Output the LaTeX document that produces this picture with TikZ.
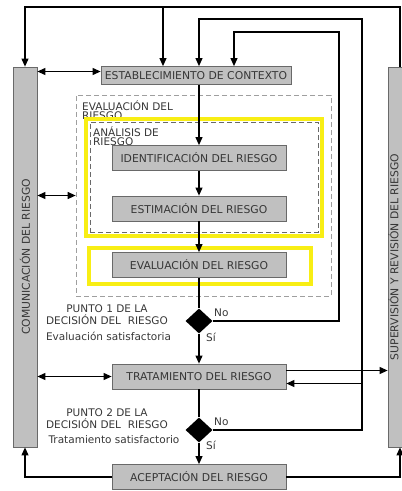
\documentclass[tikz,border=0pt]{standalone}
\usepackage{fontspec}
\setmainfont{DejaVu Sans}
\usepackage{graphicx}
\usetikzlibrary{arrows.meta,shapes.geometric,calc}
\definecolor{boxgray}{RGB}{192,192,192}
\definecolor{edgegray}{RGB}{105,105,105}
\definecolor{hilite}{RGB}{248,238,20}
\definecolor{txtgray}{RGB}{55,55,55}
\begin{document}
\begin{tikzpicture}[x=1pt,y=-1pt,
  stagebox/.style={draw=edgegray, fill=boxgray, line width=0.8pt, minimum width=174pt,
                   minimum height=25pt, inner sep=0pt, text=txtgray,
                   font=\fontsize{10.8}{12}\selectfont},
  bar/.style={draw=edgegray, fill=boxgray, line width=0.8pt, minimum width=24pt,
              minimum height=380pt, inner sep=0pt, text=txtgray,
              font=\fontsize{10.8}{12}\selectfont},
  frame/.style={draw=hilite, line width=3.5pt, fill=white, inner sep=0pt},
  zone/.style={draw=gray!75, dash pattern=on 5pt off 3pt, line width=0.7pt, inner sep=0pt},
  decide/.style={diamond, fill=black, minimum width=27pt, minimum height=25pt, inner sep=0pt},
  note/.style={text=txtgray, inner sep=0pt, font=\fontsize{10.5}{12}\selectfont},
  tag/.style={text=txtgray, align=left, inner sep=0pt, font=\fontsize{10.5}{9}\selectfont},
  flow/.style={-{Triangle[length=8pt,width=7pt]}, line width=1.1pt},
  both/.style={{Triangle[length=8pt,width=7pt]}-{Triangle[length=8pt,width=7pt]}, line width=1.1pt},
  ]
  \useasboundingbox (0,0) rectangle (402,491);
  % ---- side bars -----------------------------------------------------------
  \node[bar] (comm)  at (25,257)  {\rotatebox{90}{COMUNICACIÓN DEL RIESGO}};
  \node[bar] (super) at (400,257) {\rotatebox{90}{\raisebox{6.5pt}[\height][\depth]{SUPERVISIÓN Y REVISIÓN DEL RIESGO}}};
  % ---- evaluation zone and its frames --------------------------------------
  \node[zone, minimum width=255pt, minimum height=201pt] (zone) at (203.5,195.5) {};
  \node[tag, anchor=north west] (zonetag) at (82,101) {EVALUACIÓN DEL\\RIESGO};
  \node[frame, minimum width=236pt, minimum height=117pt] (anaframe) at (204,177.5) {};
  \node[zone, draw=edgegray, minimum width=228pt, minimum height=110pt] (anazone) at (204,177) {};
  \node[tag, anchor=north west] (anatag) at (93,127) {ANÁLISIS DE\\RIESGO};
  \node[frame, minimum width=222pt, minimum height=36pt] (evalframe) at (200,266) {};
  % ---- stages --------------------------------------------------------------
  \node[stagebox, minimum width=190pt, minimum height=18pt] (ctx) at (196,75.5) {ESTABLECIMIENTO DE CONTEXTO};
  \node[stagebox] (ident)  at (199,158)   {IDENTIFICACIÓN DEL RIESGO};
  \node[stagebox] (estim)  at (199,208.5) {ESTIMACIÓN DEL RIESGO};
  \node[stagebox] (evalr)  at (199,265)   {EVALUACIÓN DEL RIESGO};
  \node[stagebox] (treat)  at (199,376.5) {TRATAMIENTO DEL RIESGO};
  \node[stagebox] (accept) at (199,477)   {ACEPTACIÓN DEL RIESGO};
  % ---- decision points -----------------------------------------------------
  \node[decide] (d1) at (199,321) {};
  \node[decide] (d2) at (199,430) {};
  \node[note, anchor=west] (no1) at (214,313) {No};
  \node[note, anchor=west] (si1) at (206,337) {Sí};
  \node[note, anchor=west] (no2) at (214,422) {No};
  \node[note, anchor=west] (si2) at (206,445) {Sí};
  \node[note, align=center] (p1) at (107,314.5) {PUNTO 1 DE LA\\DECISIÓN DEL\ \ RIESGO};
  \node[note] (p1sub) at (108.5,336) {Evaluación satisfactoria};
  \node[note, align=center] (p2) at (107,418.5) {PUNTO 2 DE LA\\DECISIÓN DEL\ \ RIESGO};
  \node[note] (p2sub) at (114,440) {Tratamiento satisfactorio};
  % ---- main flow -----------------------------------------------------------
  \draw[flow] (ident.north |- ctx.south) -- (ident.north);
  \draw[flow] (ident) -- (estim);
  \draw[flow] (estim) -- (evalr);
  \draw[line width=1.1pt] (evalr) -- (d1);
  \draw[flow] (d1) -- (treat);
  \draw[line width=1.1pt] (treat) -- (d2);
  \draw[flow] (d2) -- (accept);
  % ---- loops back to the start ---------------------------------------------
  \coordinate (back0) at (163,7);
  \coordinate (back1) at (339,32);
  \coordinate (back2) at (362,19);
  \draw[flow] (d1.east) -| (back1) -| ($(ctx.north)+(38,0)$);
  \draw[flow] (d2.east) -| (back2) -| (ident.north |- ctx.north);
  \draw[flow] (super.north) |- (back0) -| (comm.north);
  \draw[flow] (back0) -- (back0 |- ctx.north);
  % ---- links to the side bars ----------------------------------------------
  \draw[both] ($(ctx.west -| comm.east)+(0,-4)$) -- ($(ctx.west)+(0,-4)$);
  \draw[both] (comm.east |- zone.west) -- (zone.west);
  \draw[both] (comm.east |- treat.west) -- (treat.west);
  \draw[flow] ([yshift=6pt]treat.east) -- ([yshift=6pt]treat.east -| super.west);
  \draw[flow] ([yshift=-7pt]treat.east -| back2) -- ([yshift=-7pt]treat.east);
  \draw[flow] (accept.west) -| (comm.south);
  \draw[flow] (accept.east) -| (super.south);
\end{tikzpicture}
\end{document}
